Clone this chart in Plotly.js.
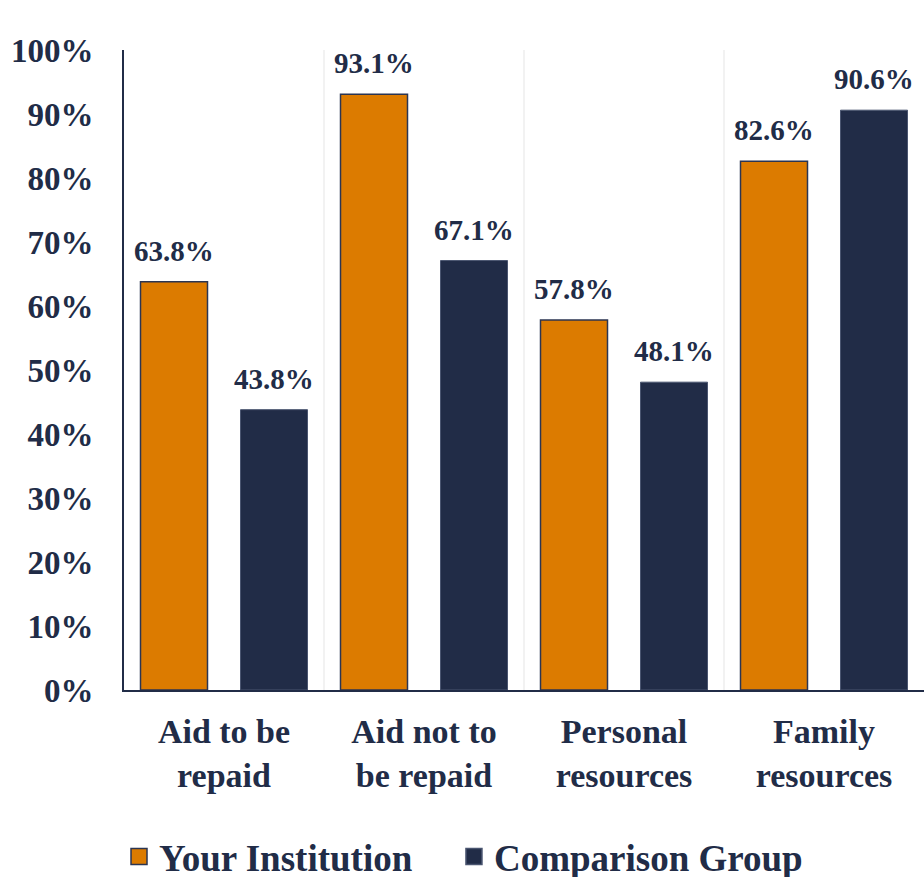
<!DOCTYPE html>
<html>
<head>
<meta charset="utf-8">
<script src="https://cdn.plot.ly/plotly-3.0.1.min.js"></script>
<style>
html,body{margin:0;padding:0;background:#fff;}
#chart{width:924px;height:877px;}
</style>
</head>
<body>
<div id="chart"></div>
<script>
const categories = ['Aid to be<br>repaid', 'Aid not to<br>be repaid', 'Personal<br>resources', 'Family<br>resources'];
const seriesNames = ['Your Institution', 'Comparison Group'];
const yourInstitution = [63.8, 93.1, 57.8, 82.6];
const comparisonGroup = [43.8, 67.1, 48.1, 90.6];
const yTickValues = [0, 10, 20, 30, 40, 50, 60, 70, 80, 90, 100];
const yTickLabels = yTickValues.map(v => v + '%');

const NAVY = '#212C47';
const ORANGE = '#DC7B00';
const FAM = 'Liberation Serif';

const series = [
  {name: seriesNames[0], values: yourInstitution, color: ORANGE, line: '#2B3552', lw: 1.5, legend: 'legend', lx: 0.1288},
  {name: seriesNames[1], values: comparisonGroup, color: NAVY, line: '#4A5570', lw: 1, legend: 'legend2', lx: 0.4913}
];

function buildTraces() {
  const traces = [];
  series.forEach(s => {
    traces.push({
      type: 'bar', x: categories, y: s.values, name: s.name, showlegend: false,
      marker: {color: s.color, line: {color: s.line, width: s.lw}},
      hoverinfo: 'skip'
    });
  });
  // legend proxies, one legend box per series
  series.forEach(s => {
    traces.push({
      type: 'scatter', mode: 'markers', x: [categories[0]], y: [null], name: s.name,
      marker: {symbol: 'square', size: 19, color: s.color, line: {color: s.line, width: 1.5}},
      showlegend: true, legend: s.legend
    });
  });
  return traces;
}

function legendBox(xpos) {
  return {
    orientation: 'h', x: xpos, xanchor: 'left', xref: 'container',
    y: 0.0228, yanchor: 'middle', yref: 'container',
    font: {family: FAM, size: 37, color: NAVY, weight: 'bold'},
    bgcolor: 'rgba(0,0,0,0)'
  };
}

function buildLayout() {
  // category width in px = 800/4 = 200; bar slot offset = +/- 50 px
  const slotShift = [-50, 50];
  const annotations = [];
  series.forEach((s, si) => {
    s.values.forEach((v, i) => {
      annotations.push({
        x: categories[i], y: v, xref: 'x', yref: 'y', xshift: slotShift[si], yshift: 13,
        yanchor: 'bottom', showarrow: false, text: v.toFixed(1) + '%',
        font: {family: FAM, size: 29, color: NAVY, weight: 'bold'}
      });
    });
  });
  return {
    width: 924, height: 877,
    margin: {l: 124, r: 0, t: 50, b: 187},
    paper_bgcolor: '#ffffff', plot_bgcolor: '#ffffff',
    barmode: 'group', bargap: 0, bargroupgap: 0.33,
    showlegend: true,
    legend: legendBox(series[0].lx),
    legend2: legendBox(series[1].lx),
    xaxis: {
      type: 'category', tickson: 'boundaries', showgrid: true, gridcolor: '#F2F2F2', gridwidth: 1.5,
      showline: true, linecolor: NAVY, linewidth: 2, ticks: '', zeroline: false, automargin: false,
      tickfont: {family: FAM, size: 34, color: NAVY, weight: 'bold'},
      ticklabelstandoff: 10, fixedrange: true
    },
    yaxis: {
      range: [0, 100], tickmode: 'array', tickvals: yTickValues, ticktext: yTickLabels,
      showgrid: false, zeroline: false, automargin: false,
      showline: true, linecolor: NAVY, linewidth: 2, ticks: '',
      tickfont: {family: FAM, size: 33, color: NAVY, weight: 'bold'},
      ticklabelstandoff: 22, fixedrange: true
    },
    annotations: annotations
  };
}

const cfg = {displayModeBar: false, staticPlot: true};
Plotly.newPlot('chart', buildTraces(), buildLayout(), cfg);
if (document.fonts && document.fonts.ready) {
  document.fonts.ready.then(() => Plotly.react('chart', buildTraces(), buildLayout(), cfg));
}
</script>
</body>
</html>
